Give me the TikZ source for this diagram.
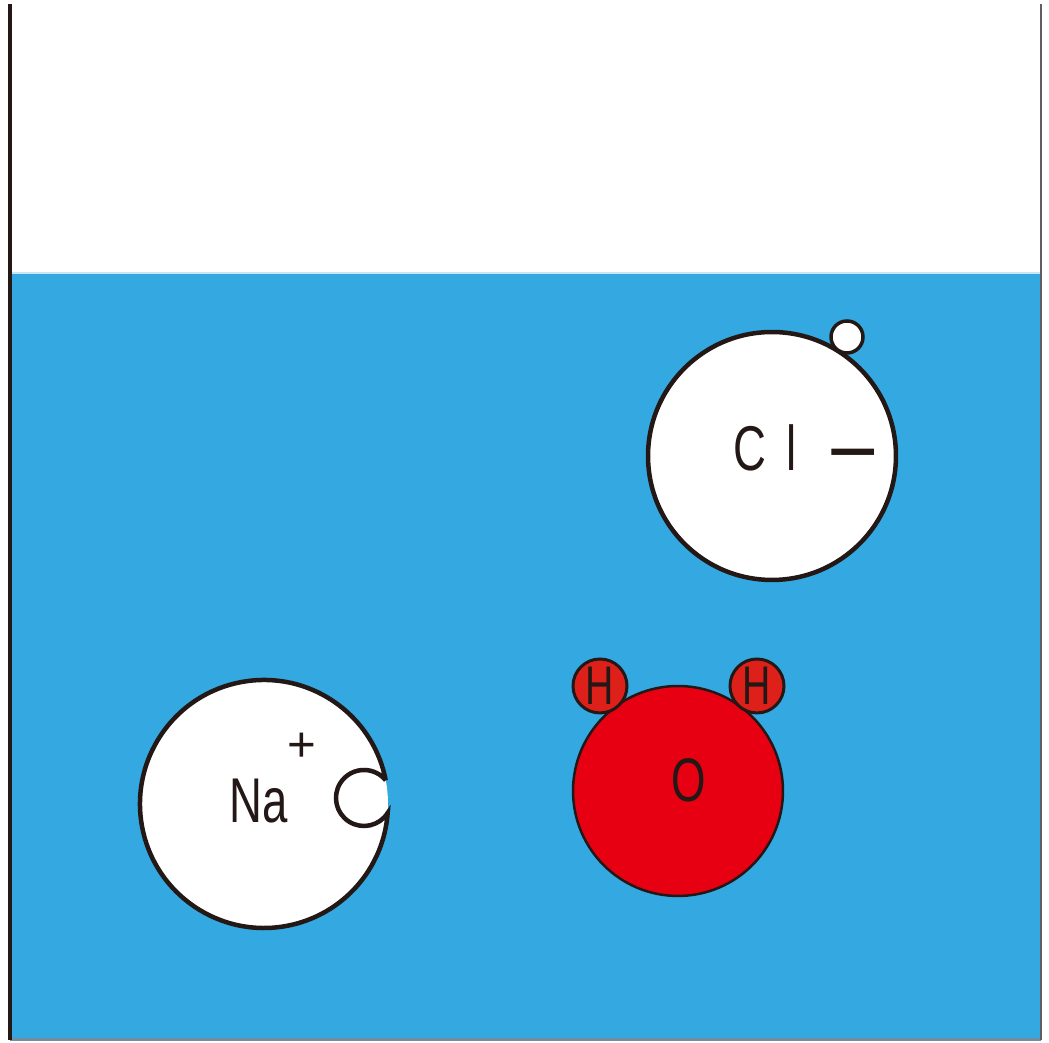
\documentclass[tikz,border=0pt]{standalone}
\usepackage{fontspec}
\setmainfont{Liberation Sans}
\newfontfamily\narrowsans[FakeStretch=0.72]{Liberation Sans}
\definecolor{water}{RGB}{52,168,224}
\definecolor{waterlight}{RGB}{200,230,246}
\definecolor{ink}{RGB}{35,24,21}
\definecolor{wallgray}{RGB}{95,95,95}
\definecolor{floorgray}{RGB}{115,140,160}
\definecolor{oxy}{RGB}{230,0,18}
\definecolor{hyd}{RGB}{222,32,26}
\begin{document}
\begin{tikzpicture}[x=0.02cm,y=0.02cm,
  ion/.style={circle,draw=ink,fill=white,line width=0.09cm,inner sep=0pt},
  electron/.style={circle,draw=ink,fill=white,line width=0.07cm,inner sep=0pt,minimum size=0.64cm},
  oatom/.style={circle,draw=ink,fill=oxy,line width=0.05cm,inner sep=0pt,minimum size=4.2cm},
  hatom/.style={circle,draw=ink,fill=hyd,line width=0.06cm,inner sep=0pt,minimum size=1.08cm,
    text=ink,font=\narrowsans\fontsize{31}{31}\selectfont},
  lbl/.style={text=ink,inner sep=0pt,font=\narrowsans\fontsize{36}{36}\selectfont},
  charge/.style={text=ink,inner sep=0pt}]
\useasboundingbox (0,0) rectangle (1049,1043);

% beaker and water
\coordinate (wl) at (10,4.5);
\coordinate (wr) at (1041,769);
\fill[water] (wl) rectangle (wr);
\draw[waterlight,line width=0.04cm] (12,770) -- (1040,770);
\coordinate (lt) at (10,1039);
\coordinate (lb) at (10,3);
\coordinate (rt) at (1041,1039);
\coordinate (rb) at (1041,3);
\draw[floorgray,line width=0.06cm] (lb) -- (rb);
\draw[ink,line width=0.08cm] (lt) -- (lb);
\draw[wallgray,line width=0.05cm] (rt) -- (rb);

% chloride ion
\node[ion,minimum size=4.96cm] (cl) at (772,587) {};
\node[electron] (cle) at (847,706) {};
\node[lbl] (cltext) at (765,595.5) {C\hspace{4pt} l};
\node[charge,font=\fontsize{50}{50}\selectfont] (clminus) at (853,578) {−};

% sodium ion with its electron hole
\coordinate (na) at (264,239);
\coordinate (nahole) at (364,245);
\fill[white] (na) circle[radius=124];
\draw[ink,line width=0.09cm]
  ([shift={(11:124)}]na) arc[start angle=11,end angle=355.88,radius=124]
  arc[start angle=-32.2,end angle=-320.93,radius=28];
\node[lbl,font=\narrowsans\fontsize{36}{36}\selectfont] (natext) at (258.5,241.5) {Na};
\node[charge,font=\fontsize{28}{28}\selectfont] (naplus) at (302,296) {+};

% water molecule
\node[oatom] (o) at (678,252) {};
\node[hatom] (h1) at (600,357) {H};
\node[hatom] (h2) at (757,357) {H};
\node[lbl,font=\narrowsans\fontsize{35}{35}\selectfont] (otext) at (689,263) {O};
\end{tikzpicture}
\end{document}
